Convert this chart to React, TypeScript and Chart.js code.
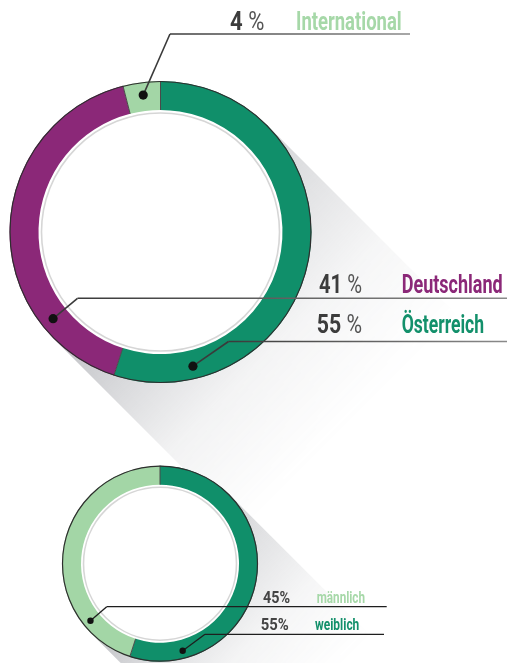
import React, { useEffect, useRef } from 'react';
import { Chart, registerables } from 'chart.js';

Chart.register(...registerables);

// ---------- data ----------
const originCategories = ['Österreich', 'Deutschland', 'International'];
const originValues = [55, 41, 4];
const originPercentLabels = ['55 %', '41 %', '4 %'];

const genderCategories = ['weiblich', 'männlich'];
const genderValues = [55, 45];
const genderPercentLabels = ['55%', '45%'];

// ---------- styles ----------
const originColors = ['#108f6a', '#8b2878', '#a3d6a6'];
const originTextColors = ['#13906b', '#8b2878', '#a6d8a8'];
const genderColors = ['#108f6a', '#a3d6a6'];
const genderTextColors = ['#13906b', '#a6d8a8'];

const W = 507;
const H = 663;

type LabelLayout = {
  dotAngle: number; // degrees clockwise from 12 o'clock
  elbow: [number, number];
  lineEnd: number;
  pctX: number;
  pctW: number;
  nameX: number;
  nameW: number;
  baseline: number;
};

const originLayout: LabelLayout[] = [
  { dotAngle: 166.4, elbow: [228.5, 341.5], lineEnd: 507, pctX: 316.7, pctW: 45.3, nameX: 401.7, nameW: 82.3, baseline: 333 },
  { dotAngle: 231.1, elbow: [77.5, 298.3], lineEnd: 507, pctX: 319, pctW: 43, nameX: 401.7, nameW: 101, baseline: 293 },
  { dotAngle: 352.8, elbow: [170, 34], lineEnd: 410, pctX: 230, pctW: 34.3, nameX: 296, nameW: 105.7, baseline: 30 },
];

const genderLayout: LabelLayout[] = [
  { dotAngle: 165.4, elbow: [205, 634.3], lineEnd: 384, pctX: 260.7, pctW: 28, nameX: 315, nameW: 44.3, baseline: 630 },
  { dotAngle: 230.6, elbow: [106.7, 606.7], lineEnd: 386.7, pctX: 263, pctW: 27, nameX: 316.7, nameW: 48.3, baseline: 603 },
];

type DecorOpts = {
  shadowLen: number;
  shadowA0: number;
  shadowA1: number;
  grayRingGap: number;
  dotR: number;
  bigText: boolean;
  fontSize: number;
  lineWidth: number;
  lineColorStart: string;
  lineColorEnd: string;
  percentLabels: string[];
  names: string[];
  textColors: string[];
  layout: LabelLayout[];
};

function fitText(ctx: CanvasRenderingContext2D, parts: { t: string; font: string; color: string }[], x: number, y: number, w: number) {
  let total = 0;
  const widths = parts.map((p) => {
    ctx.font = p.font;
    const m = ctx.measureText(p.t).width;
    total += m;
    return m;
  });
  const s = total > 0 ? w / total : 1;
  ctx.save();
  ctx.translate(x, y);
  ctx.scale(s, 1);
  let cx = 0;
  parts.forEach((p, i) => {
    ctx.font = p.font;
    ctx.fillStyle = p.color;
    ctx.textBaseline = 'alphabetic';
    ctx.textAlign = 'left';
    ctx.fillText(p.t, cx, 0);
    cx += widths[i];
  });
  ctx.restore();
}

const ringDecor = {
  id: 'ringDecor',
  beforeDatasetsDraw(chart: any, _args: any, opts: DecorOpts) {
    const meta = chart.getDatasetMeta(0);
    const arc = meta.data[0];
    if (!arc) return;
    const { x: cx, y: cy, outerRadius: r } = arc.getProps(['x', 'y', 'outerRadius'], true);
    const ctx: CanvasRenderingContext2D = chart.ctx;
    const off = document.createElement('canvas');
    off.width = chart.canvas.width;
    off.height = chart.canvas.height;
    const o = off.getContext('2d')!;
    const k = Math.SQRT1_2;
    const p1 = [cx + r * k, cy - r * k];
    const p2 = [cx - r * k, cy + r * k];
    const d = k * opts.shadowLen;
    o.beginPath();
    o.moveTo(p1[0], p1[1]);
    o.lineTo(p1[0] + d, p1[1] + d);
    o.lineTo(p2[0] + d, p2[1] + d);
    o.lineTo(p2[0], p2[1]);
    o.closePath();
    const g = o.createLinearGradient(p1[0], p1[1], p2[0], p2[1]);
    g.addColorStop(0, `rgba(95,98,108,${opts.shadowA0})`);
    g.addColorStop(1, `rgba(95,98,108,${opts.shadowA1})`);
    o.fillStyle = g;
    o.fill();
    o.globalCompositeOperation = 'destination-in';
    const g2 = o.createLinearGradient(cx, cy, cx + d, cy + d);
    g2.addColorStop(0, 'rgba(0,0,0,1)');
    g2.addColorStop(0.3, 'rgba(0,0,0,0.6)');
    g2.addColorStop(0.6, 'rgba(0,0,0,0.2)');
    g2.addColorStop(1, 'rgba(0,0,0,0)');
    o.fillStyle = g2;
    o.fillRect(0, 0, off.width, off.height);
    ctx.save();
    ctx.drawImage(off, 0, 0);
    // white disk
    ctx.beginPath();
    ctx.arc(cx, cy, r, 0, Math.PI * 2);
    ctx.fillStyle = '#ffffff';
    ctx.fill();
    ctx.restore();
  },
  afterDatasetsDraw(chart: any, _args: any, opts: DecorOpts) {
    const meta = chart.getDatasetMeta(0);
    const arcs = meta.data;
    if (!arcs.length) return;
    const { x: cx, y: cy, outerRadius: r, innerRadius: ir } = arcs[0].getProps(['x', 'y', 'outerRadius', 'innerRadius'], true);
    const ctx: CanvasRenderingContext2D = chart.ctx;
    ctx.save();
    // separators
    ctx.strokeStyle = '#4a4a4a';
    ctx.lineWidth = 1;
    arcs.forEach((a: any) => {
      const { startAngle } = a.getProps(['startAngle'], true);
      ctx.beginPath();
      ctx.moveTo(cx + Math.cos(startAngle) * ir, cy + Math.sin(startAngle) * ir);
      ctx.lineTo(cx + Math.cos(startAngle) * r, cy + Math.sin(startAngle) * r);
      ctx.stroke();
    });
    // outer outline
    ctx.beginPath();
    ctx.arc(cx, cy, r - 0.5, 0, Math.PI * 2);
    ctx.strokeStyle = '#2e2e2e';
    ctx.lineWidth = 1.2;
    ctx.stroke();
    // inner gray circle
    ctx.beginPath();
    ctx.arc(cx, cy, ir - opts.grayRingGap, 0, Math.PI * 2);
    ctx.strokeStyle = '#d6d6d6';
    ctx.lineWidth = 1.6;
    ctx.stroke();

    const midR = (r + ir) / 2 + 1.5;
    opts.layout.forEach((L, i) => {
      const ang = ((L.dotAngle - 90) * Math.PI) / 180;
      const dx = cx + Math.cos(ang) * midR;
      const dy = cy + Math.sin(ang) * midR;
      const grad = ctx.createLinearGradient(L.elbow[0], 0, L.lineEnd, 0);
      grad.addColorStop(0, opts.lineColorStart);
      grad.addColorStop(1, opts.lineColorEnd);
      ctx.beginPath();
      ctx.moveTo(dx, dy);
      ctx.lineTo(L.elbow[0], L.elbow[1]);
      ctx.strokeStyle = opts.lineColorStart;
      ctx.lineWidth = opts.lineWidth;
      ctx.stroke();
      ctx.beginPath();
      ctx.moveTo(L.elbow[0], L.elbow[1]);
      ctx.lineTo(L.lineEnd, L.elbow[1]);
      ctx.strokeStyle = grad;
      ctx.stroke();
      ctx.beginPath();
      ctx.arc(dx, dy, opts.dotR, 0, Math.PI * 2);
      ctx.fillStyle = '#111111';
      ctx.fill();

      const pct = opts.percentLabels[i];
      const fs = opts.fontSize;
      if (opts.bigText) {
        const num = pct.replace(/\s*%$/, '');
        const rest = pct.slice(num.length);
        fitText(ctx, [
          { t: num, font: `bold ${fs}px Roboto, "Liberation Sans", sans-serif`, color: '#3c3c3c' },
          { t: rest, font: `400 ${fs}px Roboto, "Liberation Sans", sans-serif`, color: '#555555' },
        ], L.pctX, L.baseline, L.pctW);
      } else {
        fitText(ctx, [
          { t: pct, font: `bold ${fs}px Roboto, "Liberation Sans", sans-serif`, color: '#444444' },
        ], L.pctX, L.baseline, L.pctW);
      }
      fitText(ctx, [
        { t: opts.names[i], font: `bold ${fs}px Roboto, "Liberation Sans", sans-serif`, color: opts.textColors[i] },
      ], L.nameX, L.baseline, L.nameW);
    });
    ctx.restore();
  },
};

function makeConfig(
  labels: string[],
  values: number[],
  colors: string[],
  radius: number,
  cutout: string,
  padding: { left: number; right: number; top: number; bottom: number },
  decor: DecorOpts
): any {
  return {
    type: 'doughnut',
    data: {
      labels,
      datasets: [
        {
          data: values,
          backgroundColor: colors,
          borderWidth: 0,
          hoverOffset: 0,
        },
      ],
    },
    options: {
      responsive: false,
      animation: false,
      radius,
      cutout,
      rotation: 0,
      layout: { padding },
      plugins: {
        legend: { display: false },
        tooltip: { enabled: false },
        ringDecor: decor,
      },
    },
    plugins: [ringDecor],
  };
}

export default function App() {
  const bigRef = useRef<HTMLCanvasElement | null>(null);
  const smallRef = useRef<HTMLCanvasElement | null>(null);

  useEffect(() => {
    if (!bigRef.current || !smallRef.current) return;
    const big = new Chart(
      bigRef.current,
      makeConfig(
        originCategories,
        originValues,
        originColors,
        151,
        '80.8%',
        { left: 9.5, right: 195.5, top: 81, bottom: 280 },
        {
          shadowLen: 270,
          shadowA0: 0.28,
          shadowA1: 0.4,
          grayRingGap: 3,
          dotR: 4.6,
          bigText: true,
          fontSize: 25,
          lineWidth: 1.6,
          lineColorStart: '#3a3a3a',
          lineColorEnd: '#8a8a8a',
          percentLabels: originPercentLabels,
          names: originCategories,
          textColors: originTextColors,
          layout: originLayout,
        }
      )
    );
    const small = new Chart(
      smallRef.current,
      makeConfig(
        genderCategories,
        genderValues,
        genderColors,
        98,
        '80.6%',
        { left: 62, right: 249, top: 465.7, bottom: 1.3 },
        {
          shadowLen: 200,
          shadowA0: 0.28,
          shadowA1: 0.4,
          grayRingGap: 2.5,
          dotR: 3.2,
          bigText: false,
          fontSize: 16,
          lineWidth: 1.3,
          lineColorStart: '#1e1e1e',
          lineColorEnd: '#1e1e1e',
          percentLabels: genderPercentLabels,
          names: genderCategories,
          textColors: genderTextColors,
          layout: genderLayout,
        }
      )
    );
    return () => {
      big.destroy();
      small.destroy();
    };
  }, []);

  return (
    <div style={{ position: 'fixed', left: 0, top: 0, width: W, height: H, background: '#ffffff', overflow: 'hidden' }}>
      <canvas ref={bigRef} width={W} height={H} style={{ position: 'absolute', left: 0, top: 0, width: W, height: H }} />
      <canvas ref={smallRef} width={W} height={H} style={{ position: 'absolute', left: 0, top: 0, width: W, height: H }} />
    </div>
  );
}
